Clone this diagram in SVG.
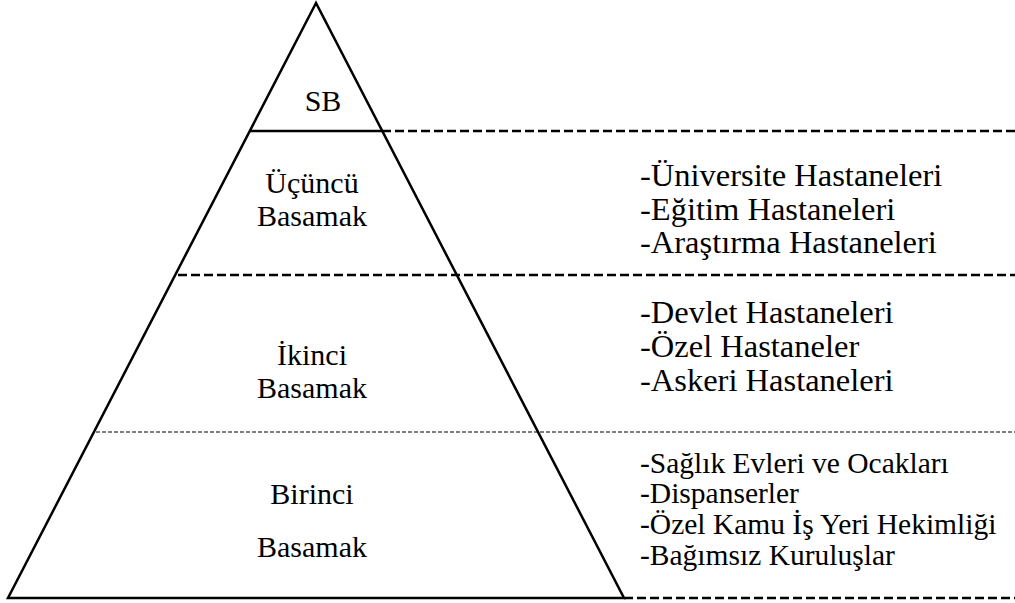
<svg xmlns="http://www.w3.org/2000/svg" width="1015" height="603" viewBox="0 0 1015 603">
<rect width="1015" height="603" fill="#fff"/>
<g id="connectors" fill="none" stroke="#000">
<line stroke-width="2.5" x1="250" y1="131" x2="382" y2="131"/>
<line stroke-width="2.5" stroke-dasharray="9 4" x1="382" y1="131" x2="1015" y2="131"/>
<line stroke-width="2.5" stroke-dasharray="9 4" x1="178" y1="275" x2="1015" y2="275"/>
<line stroke-width="1.2" stroke-dasharray="4 2" x1="96" y1="432" x2="1015" y2="432"/>
<line stroke-width="2.5" stroke-dasharray="9 4" x1="624" y1="598" x2="1015" y2="598"/>
</g>
<g id="pyramid">
<polygon fill="none" stroke="#000" stroke-width="2.5" points="316,3 8,598 624,598"/>
</g>
<g id="sb"><text x="323" y="111" font-family="Times New Roman, Liberation Serif, Tinos, serif" font-size="30" text-anchor="middle">SB</text></g>
<g id="ucuncu"><text x="312" y="193" font-family="Times New Roman, Liberation Serif, Tinos, serif" font-size="30" text-anchor="middle">Üçüncü</text><text x="312" y="226" font-family="Times New Roman, Liberation Serif, Tinos, serif" font-size="30" text-anchor="middle">Basamak</text></g>
<g id="ikinci"><text x="312" y="365" font-family="Times New Roman, Liberation Serif, Tinos, serif" font-size="30" text-anchor="middle">İkinci</text><text x="312" y="398" font-family="Times New Roman, Liberation Serif, Tinos, serif" font-size="30" text-anchor="middle">Basamak</text></g>
<g id="birinci"><text x="312" y="504" font-family="Times New Roman, Liberation Serif, Tinos, serif" font-size="30" text-anchor="middle">Birinci</text><text x="312" y="557" font-family="Times New Roman, Liberation Serif, Tinos, serif" font-size="30" text-anchor="middle">Basamak</text></g>
<g id="list3">
<text x="640" y="186" font-family="Times New Roman, Liberation Serif, Tinos, serif" font-size="32.5">-Üniversite Hastaneleri</text>
<text x="640" y="220" font-family="Times New Roman, Liberation Serif, Tinos, serif" font-size="32.5">-Eğitim Hastaneleri</text>
<text x="640" y="253" font-family="Times New Roman, Liberation Serif, Tinos, serif" font-size="32.5">-Araştırma Hastaneleri</text>
</g>
<g id="list2">
<text x="640" y="323" font-family="Times New Roman, Liberation Serif, Tinos, serif" font-size="32.5">-Devlet Hastaneleri</text>
<text x="640" y="357" font-family="Times New Roman, Liberation Serif, Tinos, serif" font-size="32.5">-Özel Hastaneler</text>
<text x="640" y="391" font-family="Times New Roman, Liberation Serif, Tinos, serif" font-size="32.5">-Askeri Hastaneleri</text>
</g>
<g id="list1">
<text x="640" y="473" font-family="Times New Roman, Liberation Serif, Tinos, serif" font-size="29.5">-Sağlık Evleri ve Ocakları</text>
<text x="640" y="503" font-family="Times New Roman, Liberation Serif, Tinos, serif" font-size="29.5">-Dispanserler</text>
<text x="640" y="534" font-family="Times New Roman, Liberation Serif, Tinos, serif" font-size="29.5">-Özel Kamu İş Yeri Hekimliği</text>
<text x="640" y="565" font-family="Times New Roman, Liberation Serif, Tinos, serif" font-size="29.5">-Bağımsız Kuruluşlar</text>
</g>
</svg>
